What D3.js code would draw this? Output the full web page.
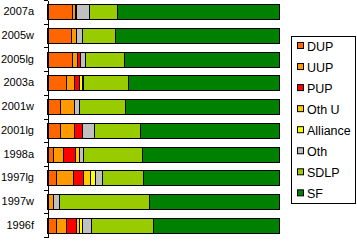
<!DOCTYPE html>
<html>
<head>
<meta charset="utf-8">
<script src="https://cdn.jsdelivr.net/npm/d3@7"></script>
<style>
  body { margin: 0; background: #fff; }
  svg { display: block; font-family: Arial, "Liberation Sans", sans-serif; }
</style>
</head>
<body>
<svg id="chart"></svg>
<script>
const categories = ["2007a", "2005w", "2005lg", "2003a", "2001w", "2001lg", "1998a", "1997lg", "1997w", "1996f"];
const parties = ["DUP", "UUP", "PUP", "Oth U", "Alliance", "Oth", "SDLP", "SF"];
const colors = ["#ff6600", "#ff9900", "#ff0000", "#ffcc00", "#ffff00", "#c0c0c0", "#99cc00", "#008000"];

// vote share (%) per election, same order as categories
const dup      = [10.6, 10.5, 10.9, 8.1, 5.6, 5.6, 2.7, 3.7, 0, 4.0];
const uup      = [1.3, 2.2, 2.0, 3.7, 6.2, 6.2, 4.0, 7.3, 2.7, 4.0];
const pup      = [0, 0, 1.3, 2.0, 0, 3.2, 5.2, 4.6, 0, 4.4];
const othU     = [0, 0, 0, 0, 0, 0, 2.0, 3.0, 0, 1.4];
const alliance = [0.7, 0, 0, 1.2, 0, 0, 0, 2.3, 0, 1.3];
const oth      = [5.6, 2.3, 2.2, 0.4, 2.2, 5.2, 1.7, 2.9, 2.3, 4.0];
const sdlp     = [12.1, 14.5, 16.6, 19.7, 19.5, 19.7, 25.4, 17.4, 38.9, 26.6];
const sf       = [69.7, 70.5, 66.9, 65.0, 66.5, 60.1, 59.0, 58.8, 56.1, 54.3];

const series = [dup, uup, pup, othU, alliance, oth, sdlp, sf];

const width = 357;
const height = 241;

const svg = d3.select("#chart")
  .attr("width", width)
  .attr("height", height);

const rows = categories.map((c, i) => {
  const r = { cat: c };
  parties.forEach((p, j) => r[p] = series[j][i]);
  return r;
});

const stacked = d3.stack().keys(parties)(rows);

const xScale = d3.scaleLinear().domain([0, 100]).range([47, 279]);
const yScale = d3.scaleBand()
  .domain(categories)
  .range([0, 237])
  .paddingInner(0.37)
  .paddingOuter(0.185);

const color = d3.scaleOrdinal().domain(parties).range(colors);

// bars
svg.append("g")
  .selectAll("g")
  .data(stacked)
  .enter()
  .append("g")
  .attr("fill", (s) => color(s.key))
  .selectAll("rect")
  .data((s) => s.filter((d) => d[1] - d[0] > 0))
  .enter()
  .append("rect")
  .attr("x", (d) => Math.round(xScale(d[0])) + 0.5)
  .attr("y", (d) => Math.round(yScale(d.data.cat)) + 0.5)
  .attr("width", (d) => Math.round(xScale(d[1])) - Math.round(xScale(d[0])))
  .attr("height", Math.round(yScale.bandwidth()))
  .attr("stroke", "#000")
  .attr("stroke-width", 1);

// category labels
const labelAxis = d3.axisLeft(yScale).tickSize(0).tickPadding(13);
svg.append("g")
  .attr("transform", "translate(47,0)")
  .call(labelAxis)
  .call((g) => g.select(".domain").remove())
  .selectAll("text")
  .attr("font-size", "11px")
  .attr("font-family", "Arial, 'Liberation Sans', sans-serif")
  .attr("fill", "#000");

// axis line with ticks between categories
const rowScale = d3.scaleLinear().domain([0, categories.length]).range([0, 237]);
svg.append("g")
  .attr("transform", "translate(47.5,0)")
  .call(d3.axisLeft(rowScale).tickValues(d3.range(categories.length + 1)).tickFormat("").tickSize(4).tickSizeOuter(0))
  .call((g) => g.selectAll("line").attr("stroke", "#000"))
  .call((g) => g.select(".domain").attr("stroke", "#000"))
  .attr("shape-rendering", "crispEdges");

// legend
const legend = svg.append("g");
legend.append("rect")
  .attr("x", 291.5)
  .attr("y", 36.5)
  .attr("width", 64)
  .attr("height", 167)
  .attr("fill", "#fff")
  .attr("stroke", "#000");

const item = legend.selectAll(".item")
  .data(parties)
  .enter()
  .append("g")
  .attr("class", "item")
  .attr("transform", (d, i) => "translate(0," + (46 + i * 21.05) + ")");

item.append("rect")
  .attr("x", 297.5)
  .attr("y", -3.5)
  .attr("width", 6)
  .attr("height", 6)
  .attr("fill", (d) => color(d))
  .attr("stroke", "#000");

item.append("text")
  .attr("x", 307)
  .attr("y", 0)
  .attr("dy", "0.36em")
  .attr("font-size", "12.5px")
  .attr("fill", "#000")
  .text((d) => d);
</script>
</body>
</html>
